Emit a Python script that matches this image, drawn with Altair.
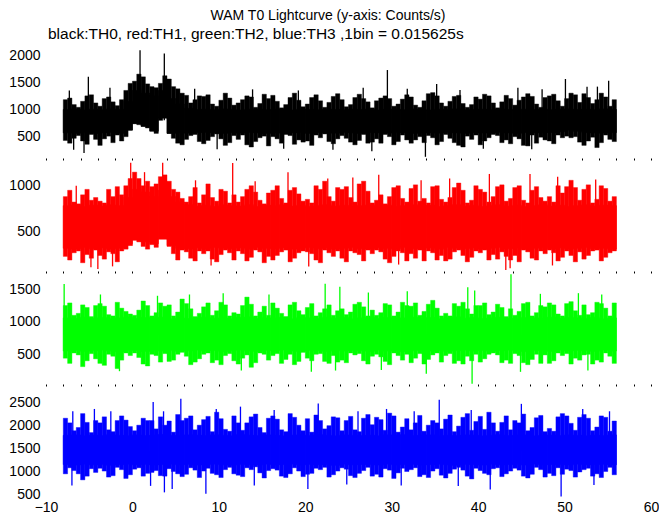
import altair as alt
import pandas as pd

# ---------------- data ----------------
T_START = -8.0          # first bin starts at -8 s
CORE_BIN = 1.0          # dense-band estimates: one value per second
EXT_BIN = 0.5           # ragged-edge estimates: one value per half second

# ---- TH0 (black) ----
th0_core_lo = [570, 560, 580, 560, 570, 580, 560, 620,
               740, 690, 600, 840, 560, 570, 565, 575,
               580, 570, 560, 575, 565, 580, 570, 560,
               575, 565, 570, 580, 560, 575, 570, 565,
               580, 570, 560, 575, 570, 565, 580, 570,
               560, 575, 570, 565, 580, 570, 560, 575,
               570, 565, 580, 570, 560, 575, 570, 580,
               575, 590, 620, 600, 575, 570, 565, 575]
th0_core_hi = [1000, 1010, 990, 1005, 995, 1010, 1000, 1150,
               1350, 1300, 1250, 1350, 1200, 1100, 1020, 1000,
               1005, 995, 1010, 1000, 990, 1005, 1010, 995,
               1000, 1010, 990, 1005, 1000, 995, 1010, 1000,
               995, 1005, 1000, 1010, 990, 1000, 1005, 995,
               1010, 1000, 990, 1005, 1000, 1010, 995, 1000,
               1005, 995, 1010, 1000, 990, 1005, 1000, 1010,
               995, 1005, 1010, 1000, 1005, 995, 1010, 1000]
th0_hi = [1180, 1210, 1090, 1040, 1150, 1250, 1270, 1120,
          1060, 1200, 1230, 1140, 1070, 1180, 1350, 1480,
          1520, 1650, 1600, 1470, 1420, 1400, 1480, 1620,
          1560, 1420, 1380, 1300, 1260, 1120, 1180, 1250,
          1240, 1270, 1100, 1060, 1170, 1300, 1210, 1080,
          1120, 1180, 1250, 1230, 1040, 1110, 1280, 1200,
          1260, 1150, 1030, 1090, 1220, 1300, 1170, 1050,
          1100, 1220, 1270, 1160, 1040, 1130, 1240, 1290,
          1180, 1050, 1090, 1220, 1280, 1200, 1140, 1030,
          1160, 1210, 1250, 1200, 1060, 1100, 1190, 1270,
          1230, 1080, 1040, 1160, 1290, 1310, 1250, 1120,
          1060, 1150, 1240, 1260, 1110, 1040, 1090, 1230,
          1190, 1280, 1250, 1120, 1030, 1140, 1260, 1200,
          1080, 1170, 1230, 1290, 1240, 1100, 1040, 1220,
          1250, 1280, 1160, 1060, 1200, 1300, 1270, 1130,
          1290, 1220, 1110, 1180, 1300, 1230, 1060, 1180]
th0_lo = [430, 380, 470, 520, 420, 360, 540, 450,
          340, 460, 510, 390, 530, 420, 500, 620,
          740, 720, 690, 660, 610, 560, 800, 870,
          560, 470, 380, 350, 450, 520, 540, 410,
          370, 430, 500, 550, 460, 340, 390, 520,
          450, 530, 350, 310, 410, 480, 510, 330,
          500, 460, 380, 540, 520, 360, 440, 400,
          420, 340, 530, 480, 550, 410, 370, 460,
          520, 470, 400, 350, 430, 540, 380, 400,
          460, 380, 540, 500, 350, 410, 530, 440,
          380, 440, 500, 390, 520, 480, 350, 410,
          540, 470, 390, 340, 310, 510, 450, 530,
          350, 420, 480, 540, 520, 390, 440, 370,
          500, 460, 340, 330, 530, 380, 490, 440,
          420, 370, 530, 480, 510, 480, 500, 400,
          340, 420, 490, 300, 390, 530, 450, 410]
th0_spike_t = [-7.3, -6.8, -5.6, -5.1, -2.6, 0.88, 3.69, 7.2, 9.8, 13.9, 17.5,
               19.2, 23.2, 26.7, 27.7, 29.5, 31.8, 33.9, 35.2, 37.9, 40.6,
               44.6, 46.2, 47.4, 50.1, 52.6, 53.8, 55.1]
th0_spike_v = [1350, 260, 200, 1600, 1400, 2090, 2030, 1380, 270, 1370, 280,
               1350, 260, 1400, 230, 1725, 1380, 130, 1470, 1360, 280,
               1400, 270, 1370, 1560, 1420, 1420, 1530]

# ---- TH1 (red) ----
th1_core_lo = [310, 300, 320, 305, 315, 300, 310, 340,
               400, 380, 360, 410, 340, 310, 305, 315,
               300, 320, 310, 305, 315, 300, 320, 310,
               305, 315, 300, 310, 320, 305, 315, 300,
               310, 320, 305, 300, 315, 310, 300, 320,
               305, 310, 315, 300, 320, 310, 305, 315,
               300, 310, 320, 305, 315, 300, 310, 320,
               305, 315, 300, 310, 320, 305, 310, 300]
th1_core_hi = [780, 790, 770, 785, 775, 790, 780, 870,
               960, 930, 880, 950, 880, 820, 790, 775,
               785, 770, 790, 780, 775, 790, 770, 785,
               780, 790, 775, 785, 770, 780, 790, 775,
               785, 770, 780, 790, 775, 785, 770, 780,
               790, 775, 785, 770, 780, 790, 775, 785,
               770, 780, 790, 775, 785, 770, 780, 790,
               775, 785, 770, 780, 790, 775, 785, 780]
th1_hi = [880, 950, 820, 800, 900, 960, 840, 870,
          830, 810, 960, 880, 990, 900, 1000, 1080,
          1150, 1080, 1000, 1050, 990, 1020, 1100, 1120,
          1050, 960, 930, 860, 820, 880, 980, 810,
          900, 1020, 870, 830, 960, 940, 810, 900,
          820, 880, 960, 1000, 930, 840, 800, 920,
          950, 1000, 860, 810, 950, 980, 910, 830,
          850, 810, 1000, 960, 1050, 880, 830, 980,
          960, 990, 870, 820, 1020, 1050, 940, 810,
          840, 900, 800, 880, 980, 1000, 860, 820,
          970, 1010, 830, 860, 810, 990, 1000, 850,
          820, 870, 980, 1030, 950, 810, 840, 1000,
          960, 930, 820, 880, 990, 1010, 830, 860,
          980, 1000, 840, 810, 950, 990, 870, 830,
          880, 820, 1000, 920, 990, 1060, 980, 840,
          960, 1010, 810, 850, 1000, 970, 830, 880]
th1_lo = [220, 180, 260, 280, 150, 240, 200, 290,
          230, 190, 270, 250, 160, 280, 300, 360,
          400, 380, 330, 300, 350, 320, 420, 430,
          330, 250, 180, 290, 270, 200, 170, 280,
          250, 280, 190, 160, 240, 290, 260, 180,
          280, 250, 170, 210, 290, 270, 150, 220,
          180, 230, 270, 290, 160, 200, 260, 280,
          270, 250, 180, 150, 290, 260, 220, 280,
          200, 160, 280, 260, 240, 170, 290, 250,
          290, 270, 190, 150, 220, 280, 260, 170,
          250, 200, 290, 170, 280, 260, 180, 230,
          170, 190, 270, 290, 230, 160, 210, 280,
          260, 290, 180, 240, 190, 270, 220, 180,
          230, 160, 290, 270, 200, 180, 280, 250,
          290, 260, 170, 210, 280, 230, 160, 270,
          190, 230, 280, 290, 170, 210, 260, 280]
th1_spike_t = [-6.5, -4.8, -4.0, -2.3, -0.2, 1.4, 3.5, 7.3, 9.1, 11.6, 14.2,
               18.0, 20.4, 22.6, 25.5, 28.5, 30.8, 33.4, 36.7, 41.3, 43.2,
               43.7, 46.0, 48.6, 49.2, 53.6]
th1_spike_v = [1000, 100, 80, 110, 1255, 1150, 1255, 1060, 120, 1250, 1050,
               1150, 110, 1080, 1090, 1120, 130, 1060, 1080, 1130, 70,
               90, 1130, 120, 1100, 1070]

# ---- TH2 (green) ----
th2_core_lo = [550, 560, 545, 555, 565, 550, 540, 560,
               555, 545, 565, 550, 560, 545, 555, 565,
               550, 560, 540, 555, 565, 550, 545, 560,
               555, 565, 550, 540, 560, 555, 545, 565,
               550, 560, 555, 545, 565, 550, 560, 540,
               555, 565, 550, 560, 545, 555, 565, 550,
               560, 545, 555, 565, 550, 540, 560, 555,
               545, 565, 550, 560, 555, 545, 565, 550]
th2_core_hi = [1060, 1050, 1070, 1055, 1065, 1045, 1060, 1075,
               1050, 1065, 1055, 1070, 1045, 1060, 1050, 1065,
               1070, 1055, 1060, 1045, 1065, 1075, 1050, 1060,
               1055, 1070, 1045, 1065, 1060, 1050, 1070, 1055,
               1065, 1045, 1060, 1075, 1050, 1065, 1055, 1060,
               1070, 1050, 1065, 1045, 1060, 1075, 1055, 1065,
               1050, 1060, 1070, 1055, 1045, 1065, 1060, 1050,
               1070, 1055, 1065, 1060, 1050, 1070, 1045, 1060]
th2_hi = [1250, 1290, 1100, 1130, 1260, 1220, 1080, 1250,
          1280, 1240, 1110, 1090, 1300, 1210, 1160, 1120,
          1100, 1180, 1320, 1250, 1090, 1140, 1290, 1240,
          1260, 1090, 1150, 1350, 1280, 1200, 1080, 1130,
          1230, 1290, 1100, 1170, 1300, 1260, 1090, 1140,
          1120, 1250, 1380, 1270, 1090, 1150, 1240, 1100,
          1290, 1210, 1130, 1080, 1260, 1300, 1170, 1110,
          1220, 1280, 1090, 1140, 1200, 1260, 1100, 1170,
          1200, 1110, 1150, 1270, 1300, 1230, 1090, 1180,
          1100, 1140, 1280, 1260, 1090, 1150, 1300, 1250,
          1240, 1290, 1100, 1160, 1270, 1330, 1210, 1090,
          1130, 1090, 1280, 1240, 1300, 1200, 1120, 1250,
          1250, 1290, 1110, 1150, 1270, 1220, 1080, 1200,
          1100, 1160, 1280, 1300, 1090, 1140, 1250, 1230,
          1290, 1260, 1120, 1090, 1280, 1310, 1170, 1100,
          1260, 1110, 1140, 1300, 1280, 1210, 1090, 1290]
th2_lo = [440, 360, 520, 490, 310, 400, 510, 430,
          360, 330, 500, 470, 280, 410, 520, 480,
          520, 450, 350, 320, 500, 480, 380, 510,
          390, 410, 500, 530, 470, 340, 380, 430,
          500, 520, 370, 410, 340, 480, 510, 400,
          350, 440, 490, 300, 370, 520, 500, 410,
          480, 510, 360, 420, 500, 340, 390, 530,
          440, 400, 500, 510, 390, 360, 480, 380,
          410, 370, 520, 490, 510, 400, 350, 470,
          500, 460, 390, 340, 520, 480, 410, 500,
          370, 440, 510, 350, 420, 490, 520, 380,
          480, 510, 360, 400, 350, 470, 400, 500,
          380, 430, 500, 520, 490, 370, 410, 360,
          510, 480, 370, 340, 420, 500, 360, 490,
          360, 400, 520, 480, 510, 350, 440, 410,
          490, 500, 350, 410, 380, 520, 470, 360]
th2_spike_t = [-7.9, -3.7, -1.5, 2.9, 6.6, 10.5, 12.6, 15.8, 20.7, 22.3, 23.5,
               24.0, 27.3, 28.8, 31.8, 34.0, 38.8, 39.3, 39.6, 43.8, 44.9,
               47.2, 51.6, 52.7, 54.3]
th2_spike_v = [1580, 1420, 240, 1400, 1420, 1440, 250, 1420, 230, 1585, 250,
               1540, 1450, 260, 1470, 200, 1530, 48, 1480, 1730, 230,
               1430, 1440, 250, 1420]

# ---- TH3 (blue) ----
th3_core_lo = [1150, 1140, 1160, 1145, 1155, 1135, 1150, 1160,
               1145, 1155, 1140, 1150, 1160, 1145, 1155, 1140,
               1150, 1160, 1145, 1135, 1155, 1150, 1140, 1160,
               1145, 1150, 1160, 1140, 1155, 1145, 1150, 1135,
               1160, 1145, 1150, 1155, 1140, 1160, 1145, 1150,
               1155, 1140, 1150, 1160, 1145, 1135, 1155, 1150,
               1140, 1160, 1145, 1150, 1155, 1140, 1160, 1145,
               1150, 1155, 1140, 1160, 1145, 1150, 1155, 1145]
th3_core_hi = [1780, 1790, 1770, 1785, 1775, 1795, 1780, 1770,
               1790, 1775, 1785, 1800, 1780, 1770, 1790, 1785,
               1775, 1790, 1780, 1770, 1795, 1785, 1775, 1790,
               1780, 1770, 1785, 1790, 1775, 1795, 1780, 1770,
               1790, 1780, 1775, 1785, 1770, 1790, 1780, 1795,
               1775, 1785, 1790, 1770, 1780, 1775, 1790, 1785,
               1770, 1780, 1795, 1775, 1785, 1790, 1770, 1780,
               1785, 1775, 1790, 1780, 1770, 1785, 1775, 1790]
th3_hi = [2150, 2050, 1880, 1950, 2250, 2060, 1840, 2100,
          2050, 2180, 1900, 1860, 2100, 2200, 2110, 1970,
          1880, 2000, 2150, 2100, 2100, 1920, 2180, 2000,
          2090, 1850, 2230, 2100, 2150, 2200, 1900, 2000,
          2120, 2190, 1860, 2280, 2140, 1910, 1870, 2200,
          2050, 1890, 2050, 2180, 2240, 1950, 1840, 2150,
          2200, 2130, 1900, 1860, 2250, 2170, 2000, 1880,
          2140, 1850, 2220, 2100, 1920, 1990, 2180, 2160,
          1880, 2100, 2190, 1900, 1860, 2150, 2230, 2010,
          2170, 2120, 1890, 2260, 2200, 1850, 1960, 2140,
          1900, 2050, 2210, 1870, 2000, 2100, 2050, 1920,
          2130, 2220, 1860, 1980, 2170, 2250, 1890, 2080,
          2190, 1910, 2280, 2050, 1870, 2060, 2200, 1900,
          2100, 2050, 2240, 1880, 1950, 2160, 2210, 1860,
          1930, 1870, 2180, 2250, 2200, 2040, 1890, 2170,
          2230, 2150, 1880, 1960, 2200, 2170, 1870, 2090]
th3_lo = [950, 1080, 1020, 950, 820, 900, 1060, 980,
          1070, 1010, 880, 910, 1090, 1040, 850, 930,
          1050, 1080, 900, 960, 980, 1020, 910, 900,
          1060, 1000, 950, 890, 940, 1080, 1030, 870,
          1010, 1070, 960, 930, 870, 1040, 1090, 950,
          920, 890, 1080, 1040, 1100, 970, 860, 1020,
          1060, 1030, 900, 870, 950, 1080, 1010, 890,
          940, 960, 1070, 1040, 1090, 880, 930, 1010,
          1080, 1050, 910, 870, 960, 1020, 1090, 900,
          940, 880, 1060, 1030, 850, 970, 1070, 1000,
          1040, 1080, 890, 930, 870, 1010, 1060, 920,
          860, 960, 1050, 1090, 1030, 900, 840, 1070,
          1020, 960, 930, 1060, 1080, 890, 950, 1010,
          1070, 1030, 900, 860, 940, 1090, 1040, 880,
          960, 910, 1080, 940, 1050, 1020, 880, 990,
          1040, 1070, 900, 950, 870, 1000, 1090, 930]
th3_spike_t = [-7.0, -6.9, -4.4, -2.5, 2.1, 2.4, 3.6, 3.7, 4.6, 5.6, 8.5, 9.7,
               12.5, 14.1, 16.4, 20.3, 21.5, 24.8, 26.1, 29.4, 31.1, 32.6,
               35.5, 37.7, 39.2, 41.4, 45.0, 49.6, 52.1, 53.4, 55.2]
th3_spike_v = [700, 2300, 2350, 2300, 690, 2500, 2300, 550, 620, 2570, 520, 2350,
               2400, 700, 2330, 620, 2470, 720, 2300, 2350, 700, 2300,
               2550, 690, 2330, 610, 2460, 460, 2350, 710, 2300]

panels = [
    dict(core_lo=th0_core_lo, core_hi=th0_core_hi, lo=th0_lo, hi=th0_hi,
         st=th0_spike_t, sv=th0_spike_v, base=800,
         color="#000000", domain=[108, 2130], ticks=[500, 1000, 1500, 2000]),
    dict(core_lo=th1_core_lo, core_hi=th1_core_hi, lo=th1_lo, hi=th1_hi,
         st=th1_spike_t, sv=th1_spike_v, base=550,
         color="#ff0000", domain=[59, 1273], ticks=[500, 1000]),
    dict(core_lo=th2_core_lo, core_hi=th2_core_hi, lo=th2_lo, hi=th2_hi,
         st=th2_spike_t, sv=th2_spike_v, base=800,
         color="#00ff00", domain=[43, 1735], ticks=[500, 1000, 1500]),
    dict(core_lo=th3_core_lo, core_hi=th3_core_hi, lo=th3_lo, hi=th3_hi,
         st=th3_spike_t, sv=th3_spike_v, base=1450,
         color="#0000ff", domain=[450, 2824], ticks=[500, 1000, 1500, 2000, 2500]),
]

FONT = "Liberation Sans"
W, H = 605, 110


def make_panel(p, bottom):
    n_core = len(p["core_lo"])
    n_ext = len(p["lo"])
    core = pd.DataFrame({
        "t0": [T_START + CORE_BIN * i for i in range(n_core)],
        "t1": [T_START + CORE_BIN * (i + 1) for i in range(n_core)],
        "lo": p["core_lo"], "hi": p["core_hi"]})
    ext = pd.DataFrame({
        "t0": [T_START + EXT_BIN * i for i in range(n_ext)],
        "t1": [T_START + EXT_BIN * (i + 1) for i in range(n_ext)],
        "lo": p["lo"], "hi": p["hi"]})
    spk = pd.DataFrame({"t": p["st"], "v": p["sv"], "base": [p["base"]] * len(p["st"])})
    xs = alt.Scale(domain=[-10, 60], nice=False, zero=False)
    ys = alt.Scale(domain=p["domain"], nice=False, zero=False)
    if bottom:
        xa = alt.Axis(values=list(range(-10, 61, 10)), ticks=False, domain=False,
                      grid=False, title=None, labelFont=FONT, labelFontSize=14,
                      labelColor="black", labelPadding=3, labelFlush=False,
                      format="d")
    else:
        xa = alt.Axis(values=list(range(-10, 61, 2)), labels=False, ticks=True,
                      tickSize=2, tickColor="black", tickWidth=1, domain=False,
                      grid=False, title=None)
    ya = alt.Axis(values=p["ticks"], ticks=False, domain=False, grid=False,
                  title=None, labelFont=FONT, labelFontSize=14, labelColor="black",
                  labelPadding=6, minExtent=37, maxExtent=37, format="d")
    edge = alt.Chart(ext).mark_rect(color=p["color"], stroke=p["color"],
                                    strokeWidth=0.4, clip=True).encode(
        x=alt.X("t0:Q", scale=xs, axis=xa), x2="t1:Q",
        y=alt.Y("lo:Q", scale=ys, axis=ya), y2="hi:Q")
    band = alt.Chart(core).mark_rect(color=p["color"], stroke=p["color"],
                                     strokeWidth=0.6, clip=True).encode(
        x=alt.X("t0:Q", scale=xs, axis=xa), x2="t1:Q",
        y=alt.Y("lo:Q", scale=ys, axis=ya), y2="hi:Q")
    spikes = alt.Chart(spk).mark_rule(color=p["color"], strokeWidth=1.3,
                                      clip=True).encode(
        x=alt.X("t:Q", scale=xs, axis=xa),
        y=alt.Y("v:Q", scale=ys, axis=ya), y2="base:Q")
    return alt.layer(edge, band, spikes).properties(width=W, height=H)


head_df = pd.DataFrame({"k": [0]})
title = alt.Chart(head_df).mark_text(
    text="WAM T0 Lightcurve (y-axis: Counts/s)", font=FONT, fontSize=14,
    align="center", baseline="alphabetic", color="black").encode(
    x=alt.value(282), y=alt.value(12))
subtitle = alt.Chart(head_df).mark_text(
    text="black:TH0, red:TH1, green:TH2, blue:TH3 ,1bin = 0.015625s", font=FONT,
    fontSize=15.5, align="left", baseline="alphabetic", color="black").encode(
    x=alt.value(2), y=alt.value(31))
header = alt.layer(title, subtitle).properties(width=W, height=40)

rows = [header] + [make_panel(p, i == len(panels) - 1) for i, p in enumerate(panels)]
chart = alt.vconcat(*rows, spacing=0).properties(
    padding=0, background="white").configure_view(stroke=None)

chart.save("out.html", embed_options={"renderer": "svg", "actions": False})
